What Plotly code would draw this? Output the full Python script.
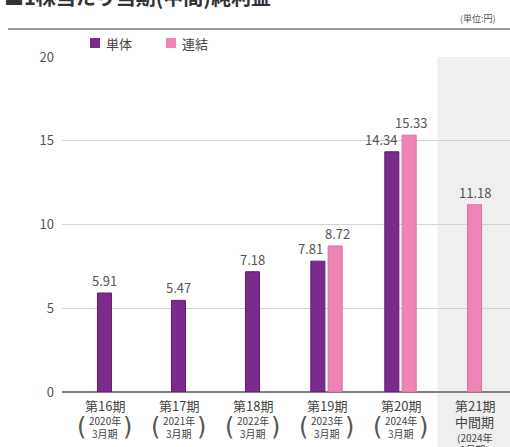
import plotly.graph_objects as go

# ---- data ----
periods = ["第16期", "第17期", "第18期", "第19期", "第20期", "第21期"]
sub_line1 = ["2020年", "2021年", "2022年", "2023年", "2024年", "中間期"]
sub_line2 = ["3月期", "3月期", "3月期", "3月期", "3月期", "(2024年"]
sub_line3 = ["", "", "", "", "", "9月期)"]
tanntai = [5.91, 5.47, 7.18, 7.81, 14.34, None]     # 単体
renketsu = [None, None, None, 8.72, 15.33, 11.18]   # 連結
series_names = ["単体", "連結"]
y_ticks = [0, 5, 10, 15, 20]

# ---- style ----
W, H = 510, 447
ML, MR, MT, MB = 62, 0, 57, 55
PW, PH = W - ML - MR, H - MT - MB
PURPLE = "#7b2b8c"
PURPLE_EDGE = "#5f1d70"
PINK = "#ee84b6"
PINK_EDGE = "#e06fa4"
TXT = "#555555"
FONT = "Noto Sans CJK JP"

XMIN = (ML - 104.5) / 74.0
XMAX = (W - 104.5) / 74.0
BW = 0.19
OFF = 0.117


def px_x(p):
    return (p - ML) / PW


def px_y(p):
    return (H - MB - p) / PH


n = len(periods)
idx = list(range(n))
xs_t, ys_t, xs_r, ys_r = [], [], [], []
for i in idx:
    both = tanntai[i] is not None and renketsu[i] is not None
    if tanntai[i] is not None:
        xs_t.append(i - OFF if both else i)
        ys_t.append(tanntai[i])
    if renketsu[i] is not None:
        xs_r.append(i + OFF if both else i)
        ys_r.append(renketsu[i])

fig = go.Figure()
fig.add_trace(go.Bar(x=xs_t, y=ys_t, width=BW, name=series_names[0],
                     marker=dict(color=PURPLE, line=dict(color=PURPLE_EDGE, width=1)),
                     hoverinfo="skip"))
fig.add_trace(go.Bar(x=xs_r, y=ys_r, width=BW, name=series_names[1],
                     marker=dict(color=PINK, line=dict(color=PINK_EDGE, width=1)),
                     hoverinfo="skip"))

ann = []
# value labels
for i in idx:
    both = tanntai[i] is not None and renketsu[i] is not None
    if tanntai[i] is not None:
        if both:
            ann.append(dict(x=i - OFF + BW / 2, y=tanntai[i], xref="x", yref="y",
                            text=f"{tanntai[i]:.2f}", showarrow=False,
                            xanchor="right", yanchor="bottom", yshift=1,
                            font=dict(size=13, color=TXT, family=FONT)))
        else:
            ann.append(dict(x=i, y=tanntai[i], xref="x", yref="y",
                            text=f"{tanntai[i]:.2f}", showarrow=False,
                            xanchor="center", yanchor="bottom", yshift=1,
                            font=dict(size=13, color=TXT, family=FONT)))
    if renketsu[i] is not None:
        ann.append(dict(x=(i + OFF) if both else i, y=renketsu[i], xref="x", yref="y",
                        text=f"{renketsu[i]:.2f}", showarrow=False,
                        xanchor="center", yanchor="bottom", yshift=1,
                        xshift=2 if both else 0,
                        font=dict(size=13, color=TXT, family=FONT)))

# category labels
for i in idx:
    ann.append(dict(x=i, y=0, xref="x", yref="y", text=periods[i], showarrow=False,
                    xanchor="center", yanchor="middle", yshift=-13,
                    font=dict(size=13, color="#444", family=FONT)))
    if sub_line3[i] == "":
        ann.append(dict(x=i, y=0, xref="x", yref="y", text=sub_line1[i], showarrow=False,
                        xanchor="center", yanchor="middle", yshift=-28,
                        font=dict(size=10, color="#444", family=FONT)))
        ann.append(dict(x=i, y=0, xref="x", yref="y", text=sub_line2[i], showarrow=False,
                        xanchor="center", yanchor="middle", yshift=-41,
                        font=dict(size=10, color="#444", family=FONT)))
        for sx, ch in ((-23, "("), (23, ")")):
            ann.append(dict(x=i, y=0, xref="x", yref="y", text=ch, showarrow=False,
                            xanchor="center", yanchor="middle", yshift=-35, xshift=sx,
                            font=dict(size=24, color="#555", family="DejaVu Sans")))
    else:
        ann.append(dict(x=i, y=0, xref="x", yref="y", text=sub_line1[i], showarrow=False,
                        xanchor="center", yanchor="middle", yshift=-29,
                        font=dict(size=13, color="#444", family=FONT)))
        ann.append(dict(x=i, y=0, xref="x", yref="y", text=sub_line2[i], showarrow=False,
                        xanchor="center", yanchor="middle", yshift=-45,
                        font=dict(size=10, color="#444", family=FONT)))
        ann.append(dict(x=i, y=0, xref="x", yref="y", text=sub_line3[i], showarrow=False,
                        xanchor="center", yanchor="middle", yshift=-57,
                        font=dict(size=10, color="#444", family=FONT)))

# title, unit
ann.append(dict(x=px_x(2), y=px_y(-3), xref="paper", yref="paper",
                text="<b>■1株当たり当期(中間)純利益</b>", showarrow=False,
                xanchor="left", yanchor="middle",
                font=dict(size=20, color="#333", family=FONT)))
ann.append(dict(x=px_x(458), y=px_y(18), xref="paper", yref="paper",
                text="(単位:円)", showarrow=False, xanchor="left", yanchor="middle",
                font=dict(size=9, color=TXT, family=FONT)))
# legend text
ann.append(dict(x=px_x(104), y=px_y(43), xref="paper", yref="paper",
                text=series_names[0], showarrow=False, xanchor="left", yanchor="middle",
                font=dict(size=13, color="#444", family=FONT)))
ann.append(dict(x=px_x(180), y=px_y(43), xref="paper", yref="paper",
                text=series_names[1], showarrow=False, xanchor="left", yanchor="middle",
                font=dict(size=13, color="#444", family=FONT)))

shapes = [
    # shaded interim region
    dict(type="rect", xref="paper", yref="paper",
         x0=(4.5 - XMIN) / (XMAX - XMIN), x1=1.02, y0=px_y(H + 2), y1=1.0,
         fillcolor="#efefef", line=dict(width=0), layer="below"),
    # top rule
    dict(type="line", xref="paper", yref="paper",
         x0=px_x(8), x1=1.02, y0=px_y(29), y1=px_y(29),
         line=dict(color="#777", width=1.5)),
    # legend squares
    dict(type="rect", xref="paper", yref="paper",
         x0=px_x(90), x1=px_x(100), y0=px_y(48), y1=px_y(38),
         fillcolor=PURPLE, line=dict(width=0)),
    dict(type="rect", xref="paper", yref="paper",
         x0=px_x(166), x1=px_x(176), y0=px_y(48), y1=px_y(38),
         fillcolor=PINK, line=dict(width=0)),
]

fig.update_layout(
    width=W, height=H, autosize=False,
    margin=dict(l=ML, r=MR, t=MT, b=MB, pad=0),
    paper_bgcolor="white", plot_bgcolor="rgba(0,0,0,0)",
    showlegend=False, barmode="overlay",
    annotations=ann, shapes=shapes,
    font=dict(family=FONT, color=TXT),
    xaxis=dict(range=[XMIN, XMAX], showgrid=False, zeroline=False,
               showticklabels=False, ticks="", fixedrange=True),
    yaxis=dict(range=[0, 20], tickvals=y_ticks, showgrid=True,
               gridcolor="#d2d2d2", gridwidth=1, zeroline=True,
               zerolinecolor="#808080", zerolinewidth=1.5,
               ticks="", ticklabelstandoff=7,
               tickfont=dict(size=13, color=TXT, family=FONT), fixedrange=True),
)

fig.write_html(
    "out.html",
    config={"displayModeBar": False},
    post_script="document.body.style.margin='0';document.body.style.overflow='hidden';"
                "document.documentElement.style.overflow='hidden';",
)
